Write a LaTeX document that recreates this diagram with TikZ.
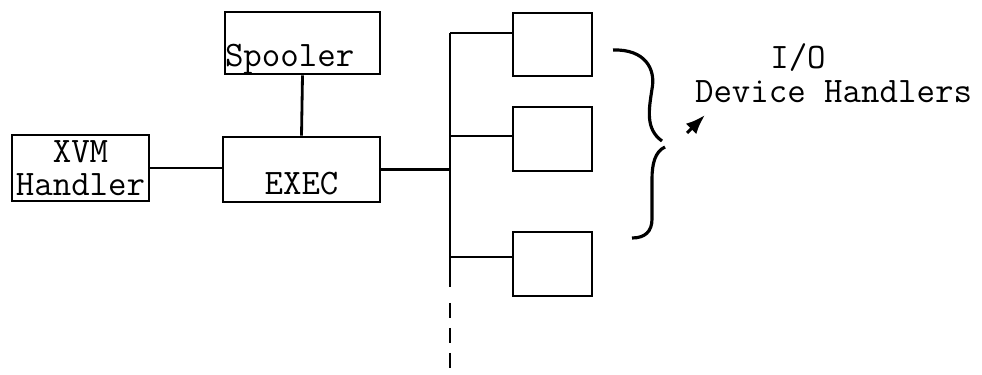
\documentclass[tikz,border=0pt]{standalone}
\usepackage{fontspec}
\usetikzlibrary{arrows.meta,positioning}

\begin{document}
\begin{tikzpicture}[>=Latex,line width=1.6pt,
  every node/.style={font=\ttfamily\fontsize{20.4}{18.7}\selectfont,inner sep=0pt},
  box/.style={draw,minimum width=#1},
  box/.default=1.58cm]
\useasboundingbox (0,0) rectangle (19.64,7.48);
\node[box=3.10cm,minimum height=1.24cm] (spool) at (6.05,6.62) {};
\node[anchor=base west] (spooltext) at ([yshift=0.18cm]spool.south west) {Spooler};
\node[box=3.14cm,minimum height=1.30cm] (exec) at (6.03,4.09) {};
\node (exectext) at ([yshift=-0.29cm]exec.center) {EXEC};
\node[box=2.74cm,minimum height=1.32cm,align=center] (xvm) at (1.61,4.12) {XVM\\Handler};
\node[box,minimum height=1.26cm] (dev1) at (11.05,6.59) {};
\node[box,minimum height=1.28cm] (dev2) at (11.05,4.70) {};
\node[box,minimum height=1.28cm] (dev3) at (11.05,2.20) {};
\coordinate (br1) at (9.0,6.82);
\coordinate (br2) at (9.0,4.76);
\coordinate (br3) at (9.0,2.34);
\coordinate (busend) at (9.0,1.74);
\coordinate (dashtop) at (9.0,1.42);
\coordinate (dashend) at (9.0,0.04);
\draw (spool.south) -- (exec.north);
\draw (xvm.east) -- (xvm.east -| exec.west);
\draw (exec.east) -- (exec.east -| br1);
\draw (br1) -- (busend);
\draw[dash pattern=on 0.3cm off 0.2cm] (dashtop) -- (dashend);
\draw (br1) -- (br1 -| dev1.west);
\draw (br2) -- (br2 -| dev2.west);
\draw (br3) -- (br3 -| dev3.west);
% brace round the handlers
\draw[line width=1.8pt] (12.26,6.48) .. controls (12.9,6.5) and (13.12,6.1) .. (13.04,5.7)
  .. controls (12.98,5.3) and (12.9,4.9) .. (13.24,4.66);
\draw[line width=1.8pt] (13.30,4.54) .. controls (13.1,4.45) and (13.04,4.2) .. (13.04,3.9)
  -- (13.04,3.1) .. controls (13.04,2.85) and (12.9,2.72) .. (12.64,2.72);
\node (iolabel) at (15.96,6.32) {I/O};
\node (devlabel) at (16.67,5.64) {Device Handlers};
\coordinate (arrstart) at (13.74,4.82);
\coordinate (arrend) at (14.10,5.18);
\draw[->,line width=1.8pt] (arrstart) -- (arrend);
\end{tikzpicture}
\end{document}
